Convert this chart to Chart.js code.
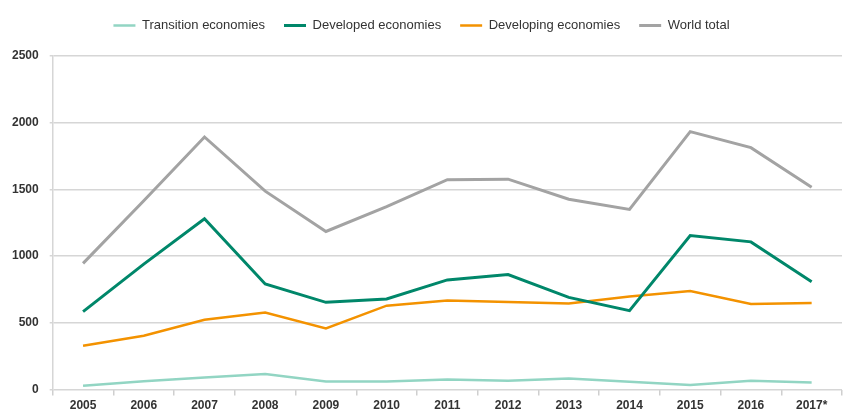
<!DOCTYPE html>
<html>
<head>
<meta charset="utf-8">
<script src="https://cdn.jsdelivr.net/npm/chart.js@4.4.1/dist/chart.umd.min.js"></script>
<style>
  html, body { margin: 0; padding: 0; background: #fff; }
  #wrap { width: 854px; height: 417px; }
</style>
</head>
<body>
<div id="wrap"><canvas id="myChart"></canvas></div>
<script>
const years = ['2005','2006','2007','2008','2009','2010','2011','2012','2013','2014','2015','2016','2017*'];
const transition = [28, 62, 91, 116, 61, 61, 76, 66, 83, 58, 34, 66, 53];
const developed = [584, 940, 1280, 792, 654, 679, 822, 862, 691, 592, 1155, 1107, 809];
const developing = [329, 404, 524, 577, 459, 629, 667, 657, 646, 697, 739, 642, 649];
const worldTotal = [946, 1415, 1893, 1487, 1185, 1372, 1573, 1577, 1427, 1350, 1933, 1813, 1517];

const font = "'Liberation Sans', Arial, sans-serif";
const ctx = document.getElementById('myChart').getContext('2d');

// a bit of extra space under the legend
const legendMargin = {
    id: 'legendMargin',
    beforeInit(chart) {
        const fit = chart.legend.fit;
        chart.legend.fit = function () {
            fit.bind(chart.legend)();
            this.height += 14;
        };
    }
};

const myChart = new Chart(ctx, {
    type: 'line',
    data: {
        labels: years,
        datasets: [
            { label: 'Transition economies', data: transition, borderColor: '#92d5c3', backgroundColor: '#92d5c3', borderWidth: 2.5 },
            { label: 'Developed economies', data: developed, borderColor: '#00876a', backgroundColor: '#00876a', borderWidth: 3 },
            { label: 'Developing economies', data: developing, borderColor: '#f39200', backgroundColor: '#f39200', borderWidth: 2.5 },
            { label: 'World total', data: worldTotal, borderColor: '#a3a3a3', backgroundColor: '#a3a3a3', borderWidth: 3 }
        ]
    },
    options: {
        responsive: true,
        maintainAspectRatio: false,
        animation: false,
        elements: { point: { radius: 0 }, line: { tension: 0 } },
        layout: { padding: { left: 1, right: 12, top: 0, bottom: 1 } },
        plugins: {
            tooltip: { enabled: false },
            legend: {
                position: 'top',
                labels: {
                    usePointStyle: true,
                    pointStyle: 'line',
                    pointStyleWidth: 22,
                    boxHeight: 8,
                    padding: 19,
                    color: '#333',
                    font: { family: font, size: 13 }
                }
            }
        },
        scales: {
            x: {
                offset: true,
                grid: { offset: true, drawOnChartArea: false, color: '#cfcfcf', lineWidth: 1.5, tickLength: 6 },
                border: { display: false },
                ticks: { color: '#333', font: { family: font, size: 12, weight: 'bold' }, maxRotation: 0, padding: 3 }
            },
            y: {
                min: 0,
                max: 2500,
                ticks: { stepSize: 500, color: '#333', font: { family: font, size: 12, weight: 'bold' }, padding: 11, callback: v => String(v) },
                grid: { color: '#d6d6d6', lineWidth: 1.5, tickLength: 3 },
                border: { display: true, color: '#d6d6d6', width: 1.5 }
            }
        }
    },
    plugins: [legendMargin]
});
</script>
</body>
</html>
